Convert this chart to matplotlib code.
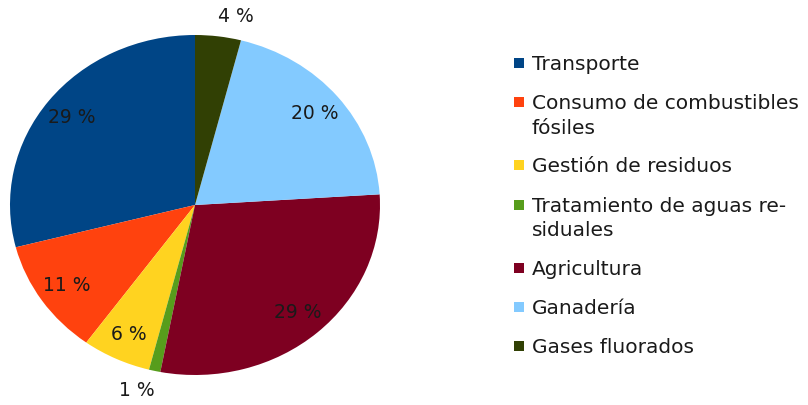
import matplotlib
matplotlib.use("Agg")
import matplotlib.pyplot as plt
from matplotlib.patches import Rectangle
import numpy as np

categories = ["Transporte", "Consumo de combustibles\nfósiles", "Gestión de residuos",
              "Tratamiento de aguas re-\nsiduales", "Agricultura", "Ganadería", "Gases fluorados"]
values = [29, 11, 6, 1, 29, 20, 4]
colors = ["#004586", "#ff420e", "#ffd320", "#579d1c", "#7e0021", "#83caff", "#314004"]

plt.rcParams['font.family'] = ['DejaVu Sans']
W, H = 808, 405
fig = plt.figure(figsize=(W / 100, H / 100), dpi=100)

# pie axes (image is horizontally stretched, so the pie is an ellipse)
ax = fig.add_axes([10 / W, (H - 375) / H, 370 / W, 340 / H])
wedges, _ = ax.pie(values, colors=colors, startangle=90, counterclock=True,
                   wedgeprops=dict(linewidth=0))
ax.set_aspect('auto')
ax.set_xlim(-1, 1)
ax.set_ylim(-1, 1)
ax.axis('off')

txtcol = "#1a1a1a"
for w, v in zip(wedges, values):
    mid = np.deg2rad((w.theta1 + w.theta2) / 2)
    c, s = np.cos(mid), np.sin(mid)
    if v < 5:
        # outside label anchored at the rim
        ax.text(1.0 * c, 1.12 * s, f"{v} %", ha='left' if c > 0 else 'right',
                va='center', fontsize=13.5, color=txtcol, clip_on=False)
    else:
        ax.text(0.84 * c, 0.84 * s, f"{v} %", ha='center', va='center',
                fontsize=13.5, color=txtcol, clip_on=False)

# legend
fs = 14.5
y0 = 63
entry_gap = 39
line_gap = 24.5
extra = 0
for i, (lab, col) in enumerate(zip(categories, colors)):
    yc = y0 + i * entry_gap + extra * line_gap
    fig.patches.append(Rectangle((514 / W, (H - yc - 5) / H), 10 / W, 10 / H,
                                 transform=fig.transFigure, color=col, linewidth=0))
    lines = lab.split("\n")
    for j, ln in enumerate(lines):
        yy = yc + j * line_gap
        fig.text(532 / W, (H - yy - 7) / H, ln, ha='left', va='baseline',
                 fontsize=fs, color=txtcol)
    extra += len(lines) - 1

fig.savefig("out.png", dpi=100, facecolor="white")
